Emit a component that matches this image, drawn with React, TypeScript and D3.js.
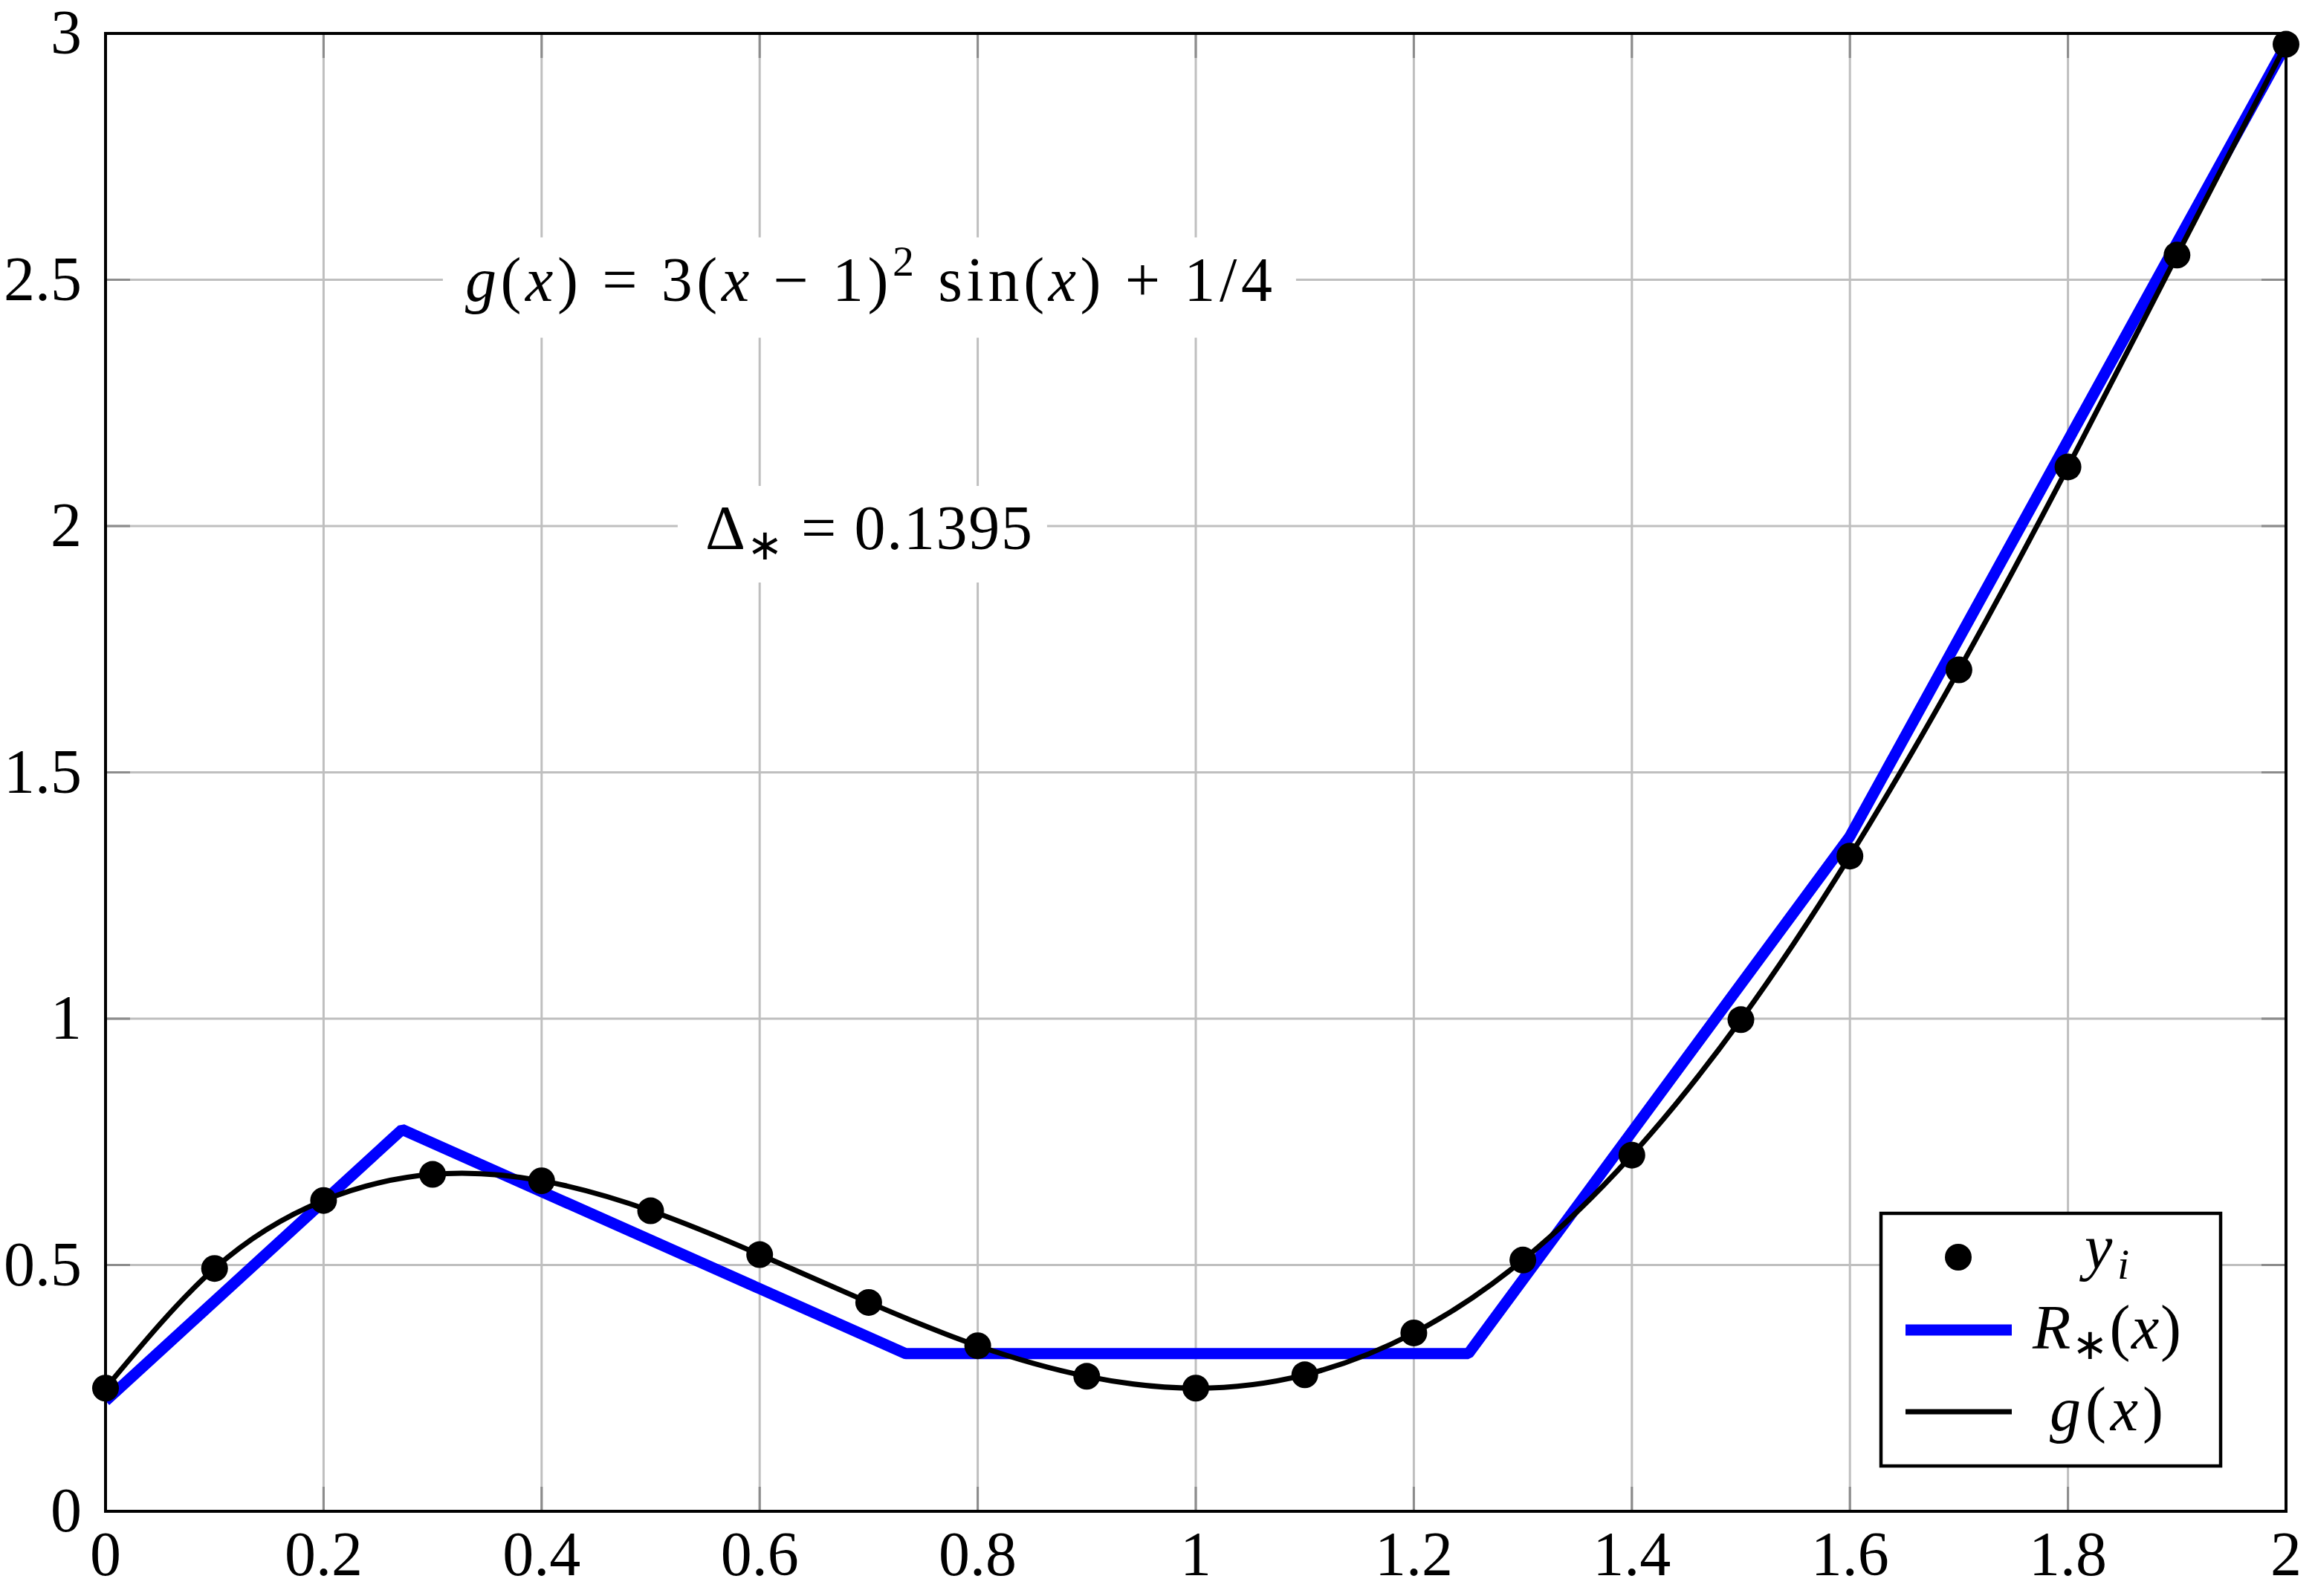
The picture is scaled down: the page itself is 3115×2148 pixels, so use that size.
import * as d3 from 'd3'

// sample points y_i = g(x_i)
const sampleX = [0, 0.1, 0.2, 0.3, 0.4, 0.5, 0.6, 0.7, 0.8, 0.9, 1, 1.1, 1.2, 1.3, 1.4, 1.5, 1.6, 1.7, 1.8, 1.9, 2]
const sampleY = [0.25, 0.493, 0.631, 0.684, 0.671, 0.61, 0.521, 0.424, 0.336, 0.274, 0.25, 0.277, 0.362, 0.51, 0.723, 0.998, 1.33, 1.708, 2.12, 2.55, 2.978]

// piecewise linear approximation R_*(x)
const rStarX = [0, 0.272, 0.734, 1.25, 1.6, 2]
const rStarY = [0.224, 0.775, 0.32, 0.32, 1.37, 2.977]

const xTicks = [0, 0.2, 0.4, 0.6, 0.8, 1, 1.2, 1.4, 1.6, 1.8, 2]
const xTickLabels = ['0', '0.2', '0.4', '0.6', '0.8', '1', '1.2', '1.4', '1.6', '1.8', '2']
const yTicks = [0, 0.5, 1, 1.5, 2, 2.5, 3]
const yTickLabels = ['0', '0.5', '1', '1.5', '2', '2.5', '3']

const W = 3115
const H = 2148
const margin = { top: 45, right: 39, bottom: 114, left: 142 }
const FONT = '"Liberation Serif", "Times New Roman", serif'
const FS = 84
const GRID = '#bfbfbf'
const TICK = '#8c8c8c'

export default function App() {
  const x = d3.scaleLinear().domain([0, 2]).range([margin.left, W - margin.right])
  const y = d3.scaleLinear().domain([0, 3]).range([H - margin.bottom, margin.top])

  const samples = sampleX.map((v, i) => [v, sampleY[i]] as [number, number])
  const rStar = rStarX.map((v, i) => [v, rStarY[i]] as [number, number])

  const gLine = d3.line<[number, number]>()
    .x(d => x(d[0]))
    .y(d => y(d[1]))
    .curve(d3.curveNatural)
  const rLine = d3.line<[number, number]>()
    .x(d => x(d[0]))
    .y(d => y(d[1]))

  const [x0, x1] = x.range()
  const [y0, y1] = y.range()
  const tickLen = 33

  // annotation nodes
  const fX = x(0.7)
  const fBase = y(2.5) + 28
  const fLen = 1086
  const dX = x(0.7)
  const dBase = y(2) + 31
  const dLen = 440

  // legend
  const lg = { x: 2531, y: 1633, w: 457, h: 340 }
  const rowY = [lg.y + 59, lg.y + 157, lg.y + 267]
  const labelX = 2835

  return (
    <svg width={W} height={H} style={{ position: 'absolute', left: 0, top: 0, display: 'block', background: '#fff' }}
      fontFamily={FONT} fontSize={FS}>
      {/* grid */}
      <g stroke={GRID} strokeWidth={3}>
        {xTicks.map(t => <line key={'gx' + t} x1={x(t)} x2={x(t)} y1={y0} y2={y1} />)}
        {yTicks.map(t => <line key={'gy' + t} x1={x0} x2={x1} y1={y(t)} y2={y(t)} />)}
      </g>
      {/* ticks on all sides, pointing inward */}
      <g stroke={TICK} strokeWidth={3}>
        {xTicks.map(t => (
          <g key={'tx' + t}>
            <line x1={x(t)} x2={x(t)} y1={y0} y2={y0 - tickLen} />
            <line x1={x(t)} x2={x(t)} y1={y1} y2={y1 + tickLen} />
          </g>
        ))}
        {yTicks.map(t => (
          <g key={'ty' + t}>
            <line x1={x0} x2={x0 + tickLen} y1={y(t)} y2={y(t)} />
            <line x1={x1} x2={x1 - tickLen} y1={y(t)} y2={y(t)} />
          </g>
        ))}
      </g>

      {/* annotation nodes with white fill */}
      <rect x={fX - fLen / 2 - 30} y={fBase - 85} width={fLen + 62} height={135} fill="#fff" />
      <text x={fX - fLen / 2} y={fBase} textLength={fLen} lengthAdjust="spacing">
        <tspan fontStyle="italic">g</tspan>
        <tspan>(</tspan>
        <tspan fontStyle="italic">x</tspan>
        <tspan>{') = 3('}</tspan>
        <tspan fontStyle="italic">x</tspan>
        <tspan>{' − 1)'}</tspan>
        <tspan fontSize={58} dy={-34}>2</tspan>
        <tspan dy={34}>{' sin('}</tspan>
        <tspan fontStyle="italic">x</tspan>
        <tspan>{') + 1/4'}</tspan>
      </text>

      <rect x={dX - dLen / 2 - 37} y={dBase - 85} width={dLen + 57} height={130} fill="#fff" />
      <text x={dX - dLen / 2} y={dBase} textLength={dLen} lengthAdjust="spacing">
        <tspan>Δ</tspan>
        <tspan fontSize={58} dy={14}>∗</tspan>
        <tspan dy={-14}>{' = 0.1395'}</tspan>
      </text>

      {/* R_*(x) */}
      <path d={rLine(rStar) ?? ''} fill="none" stroke="#0000ff" strokeWidth={15} strokeLinejoin="bevel" />
      {/* g(x) */}
      <path d={gLine(samples) ?? ''} fill="none" stroke="#000" strokeWidth={7} />
      {/* y_i */}
      <g fill="#000">
        {samples.map(d => <circle key={'p' + d[0]} cx={x(d[0])} cy={y(d[1])} r={18} />)}
      </g>

      {/* axis frame */}
      <rect x={x0} y={y1} width={x1 - x0} height={y0 - y1} fill="none" stroke="#000" strokeWidth={4} />

      {/* tick labels */}
      <g fill="#000">
        {xTicks.map((t, i) => (
          <text key={'lx' + t} x={x(t)} y={y0 + 86} textAnchor="middle">{xTickLabels[i]}</text>
        ))}
        {yTicks.map((t, i) => (
          <text key={'ly' + t} x={x0 - 32} y={y(t) + 27} textAnchor="end">{yTickLabels[i]}</text>
        ))}
      </g>

      {/* legend */}
      <rect x={lg.x} y={lg.y} width={lg.w} height={lg.h} fill="#fff" stroke="#000" strokeWidth={4.5} />
      <circle cx={2635} cy={rowY[0]} r={18} fill="#000" />
      <line x1={2564} x2={2707} y1={rowY[1]} y2={rowY[1]} stroke="#0000ff" strokeWidth={15} />
      <line x1={2564} x2={2707} y1={rowY[2]} y2={rowY[2]} stroke="#000" strokeWidth={7} />
      <text x={labelX - 30} y={rowY[0] + 15} textLength={60} lengthAdjust="spacing">
        <tspan fontStyle="italic">y</tspan>
        <tspan fontStyle="italic" fontSize={58} dy={14}>i</tspan>
      </text>
      <text x={labelX - 100} y={rowY[1] + 25} textLength={200} lengthAdjust="spacing">
        <tspan fontStyle="italic">R</tspan>
        <tspan fontSize={58} dy={14}>∗</tspan>
        <tspan dy={-14}>(</tspan>
        <tspan fontStyle="italic">x</tspan>
        <tspan>)</tspan>
      </text>
      <text x={labelX - 77} y={rowY[2] + 25} textLength={153} lengthAdjust="spacing">
        <tspan fontStyle="italic">g</tspan>
        <tspan>(</tspan>
        <tspan fontStyle="italic">x</tspan>
        <tspan>)</tspan>
      </text>
    </svg>
  )
}
